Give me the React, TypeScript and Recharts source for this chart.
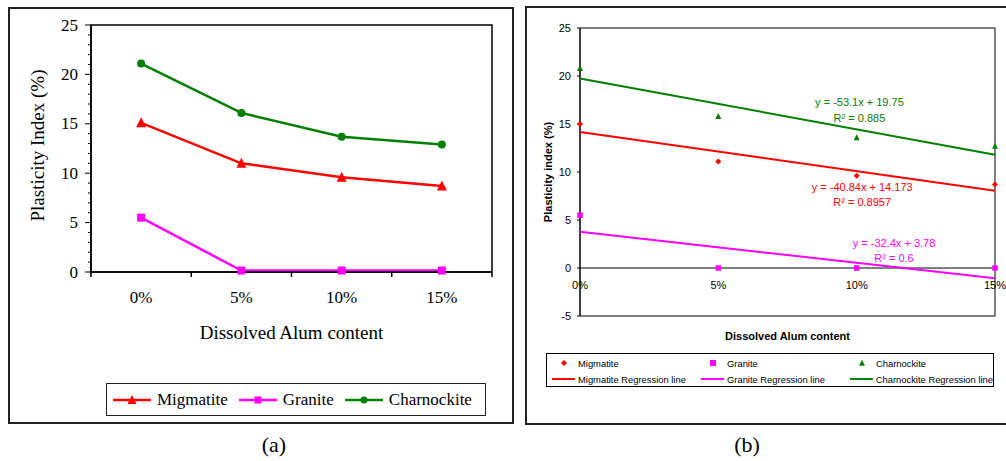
import {
  LineChart,
  Line,
  ScatterChart,
  Scatter,
  XAxis,
  YAxis,
  Legend,
  ReferenceArea,
  ReferenceLine,
  ReferenceDot,
} from 'recharts'

// shared x categories
const alumLabels = ['0%', '5%', '10%', '15%']
const alumFractions = [0, 0.05, 0.1, 0.15]

// (a) plasticity index per rock type
const migmatiteA = [15.1, 11.0, 9.6, 8.7]
const graniteA = [5.5, 0.15, 0.15, 0.15]
const charnockiteA = [21.1, 16.1, 13.7, 12.9]

// (b) same tests against alum fraction
const migmatiteB = [15.0, 11.1, 9.6, 8.7]
const graniteB = [5.5, 0, 0, 0]
const charnockiteB = [20.8, 15.8, 13.6, 12.7]

// linear fits, read at x = 0 and x = 0.15
const fitX = [0, 0.15]
const migmatiteFit = [14.17, 8.05]
const graniteFit = [3.78, -1.08]
const charnockiteFit = [19.75, 11.79]

const yTicksA = [0, 1, 2, 3, 4, 5, 6, 7, 8, 9, 10, 11, 12, 13, 14, 15, 16, 17, 18, 19, 20, 21, 22, 23, 24, 25]
const yTicksB = [-5, 0, 5, 10, 15, 20, 25]

const RED = '#ff0000'
const PINK = '#ff00ff'
const GREEN = '#008000'
const SERIF = '"Liberation Serif", "Times New Roman", serif'
const SANS = '"Liberation Sans", Arial, sans-serif'

const rowsA = alumLabels.map((cat, i) => ({
  cat,
  migmatite: migmatiteA[i],
  granite: graniteA[i],
  charnockite: charnockiteA[i],
}))

const toPoints = (xs: number[], ys: number[]) => xs.map((x, i) => ({ x, y: ys[i] }))

const fitNotes = [
  { text: 'y = -53.1x + 19.75', x: 0.101, y: 17.3, color: GREEN },
  { text: 'R² = 0.885', x: 0.101, y: 15.6, color: GREEN },
  { text: 'y = -40.84x + 14.173', x: 0.102, y: 8.45, color: RED },
  { text: 'R² = 0.8957', x: 0.102, y: 6.9, color: RED },
  { text: 'y = -32.4x + 3.78', x: 0.1135, y: 2.6, color: PINK },
  { text: 'R² = 0.6', x: 0.1135, y: 1.05, color: PINK },
]

type Kind = 'triangle' | 'square' | 'circle' | 'diamond' | 'none'

function Marker({ kind, cx, cy, size, fill }: { kind: Kind; cx: number; cy: number; size: number; fill: string }) {
  const h = size / 2
  if (kind === 'triangle')
    return <polygon points={`${cx},${cy - h * 1.1} ${cx + h},${cy + h * 0.9} ${cx - h},${cy + h * 0.9}`} fill={fill} />
  if (kind === 'square') return <rect x={cx - h} y={cy - h} width={size} height={size} fill={fill} />
  if (kind === 'circle') return <circle cx={cx} cy={cy} r={h} fill={fill} />
  if (kind === 'diamond')
    return <polygon points={`${cx},${cy - h} ${cx + h},${cy} ${cx},${cy + h} ${cx - h},${cy}`} fill={fill} />
  return <g />
}

function AxisTitle(props: any) {
  const { viewBox, text, vertical, titleX = 0, titleY = 0, fontSize, fontWeight, fontFamily } = props
  if (!viewBox) return null
  const cx = vertical ? viewBox.x + titleX : viewBox.x + viewBox.width / 2 + titleX
  const cy = vertical ? viewBox.y + viewBox.height / 2 + titleY : viewBox.y + titleY
  return (
    <text
      x={cx}
      y={cy}
      textAnchor="middle"
      dominantBaseline="central"
      transform={vertical ? `rotate(-90 ${cx} ${cy})` : undefined}
      fontSize={fontSize}
      fontWeight={fontWeight}
      fontFamily={fontFamily}
      fill="#000"
    >
      {text}
    </text>
  )
}

// category tick: label in the band, tick mark on the band edges
function BandTick(props: any) {
  const { x, y, payload, index, visibleTicksCount } = props
  const half = payload?.offset ?? 0
  const last = index === visibleTicksCount - 1
  return (
    <g>
      <line x1={x - half} y1={y} x2={x - half} y2={y + 5} stroke="#000" strokeWidth={1.5} />
      {last && <line x1={x + half} y1={y} x2={x + half} y2={y + 5} stroke="#000" strokeWidth={1.5} />}
      <text x={x} y={y + 25} textAnchor="middle" dominantBaseline="central" fontSize={17} fontFamily={SERIF} fill="#000">
        {payload.value}
      </text>
    </g>
  )
}

function MinorTick(props: any) {
  const { x, y, payload } = props
  const major = payload.value % 5 === 0
  return (
    <g>
      <line x1={x} y1={y} x2={x - (major ? 6 : 3)} y2={y} stroke="#000" strokeWidth={1} />
      {major && (
        <text x={x - 13} y={y} textAnchor="end" dominantBaseline="central" fontSize={17} fontFamily={SERIF} fill="#000">
          {payload.value}
        </text>
      )}
    </g>
  )
}

const seriesA = [
  { key: 'migmatite', name: 'Migmatite', color: RED, kind: 'triangle' as Kind, size: 10 },
  { key: 'granite', name: 'Granite', color: PINK, kind: 'square' as Kind, size: 8 },
  { key: 'charnockite', name: 'Charnockite', color: GREEN, kind: 'circle' as Kind, size: 8 },
]

function LegendA() {
  return (
    <div
      style={{
        display: 'flex',
        alignItems: 'center',
        height: '100%',
        boxSizing: 'border-box',
        border: '1.5px solid #222',
        background: '#fff',
        paddingLeft: 6,
        fontFamily: SERIF,
        fontSize: 17,
        color: '#000',
      }}
    >
      {seriesA.map((s) => (
        <div key={s.key} style={{ display: 'flex', alignItems: 'center', marginRight: 11 }}>
          <svg width={38} height={12}>
            <line x1={0} y1={6} x2={38} y2={6} stroke={s.color} strokeWidth={2.5} />
            <Marker kind={s.kind} cx={19} cy={6} size={s.size - 1} fill={s.color} />
          </svg>
          <span style={{ marginLeft: 6 }}>{s.name}</span>
        </div>
      ))}
    </div>
  )
}

const legendB = [
  { name: 'Migmatite', color: RED, kind: 'diamond' as Kind },
  { name: 'Granite', color: PINK, kind: 'square' as Kind },
  { name: 'Charnockite', color: GREEN, kind: 'triangle' as Kind },
  { name: 'Migmatite Regression line', color: RED, kind: 'none' as Kind },
  { name: 'Granite Regression line', color: PINK, kind: 'none' as Kind },
  { name: 'Charnockite Regression line', color: GREEN, kind: 'none' as Kind },
]

function LegendB() {
  return (
    <div
      style={{
        display: 'grid',
        gridTemplateColumns: '149px 149px 148px',
        gridAutoRows: '16px',
        alignItems: 'center',
        height: '100%',
        boxSizing: 'border-box',
        border: '1px solid #000',
        background: '#fff',
        paddingTop: 1,
        fontFamily: SANS,
        fontSize: 9.4,
        color: '#000',
        whiteSpace: 'nowrap',
      }}
    >
      {legendB.map((s) => (
        <div key={s.name} style={{ display: 'flex', alignItems: 'center', paddingLeft: 4 }}>
          <svg width={24} height={10}>
            {s.kind === 'none' ? (
              <line x1={1} y1={5} x2={24} y2={5} stroke={s.color} strokeWidth={2} />
            ) : (
              <Marker kind={s.kind} cx={13} cy={5} size={6} fill={s.color} />
            )}
          </svg>
          <span style={{ marginLeft: 3 }}>{s.name}</span>
        </div>
      ))}
    </div>
  )
}

export default function App() {
  return (
    <div style={{ position: 'absolute', left: 0, top: 0, width: 1006, height: 461, overflow: 'hidden', background: '#fff' }}>
      {/* panel frames */}
      <div style={{ position: 'absolute', left: 8, top: 7, width: 506, height: 417, border: '2px solid #222', boxSizing: 'border-box' }} />
      <div style={{ position: 'absolute', left: 525, top: 6, width: 500, height: 419, border: '2px solid #222', boxSizing: 'border-box' }} />

      <div style={{ position: 'absolute', left: 9, top: 8 }}>
        <LineChart width={503} height={414} data={rowsA} margin={{ top: 17, right: 20, bottom: 70, left: 0 }}>
          <ReferenceArea y1={0} y2={25} fill="none" stroke="#000" strokeWidth={1.5} />
          <XAxis
            dataKey="cat"
            scale="band"
            height={80}
            interval={0}
            tickSize={0}
            tickMargin={0}
            tickLine={false}
            axisLine={{ stroke: '#000', strokeWidth: 1.5 }}
            tick={<BandTick />}
            label={<AxisTitle text="Dissolved Alum content" titleY={60} fontSize={19} fontFamily={SERIF} />}
          />
          <YAxis
            width={82}
            domain={[0, 25]}
            ticks={yTicksA}
            interval={0}
            tickSize={0}
            tickMargin={0}
            tickLine={false}
            axisLine={{ stroke: '#000', strokeWidth: 1.5 }}
            tick={<MinorTick />}
            label={<AxisTitle vertical text="Plasticity Index (%)" titleX={28} titleY={-3} fontSize={19} fontFamily={SERIF} />}
          />
          {seriesA.map((s) => (
            <Line
              key={s.key}
              dataKey={s.key}
              name={s.name}
              stroke={s.color}
              strokeWidth={2.5}
              isAnimationActive={false}
              activeDot={false}
              dot={(p: any) => <Marker key={p.index} kind={s.kind} cx={p.cx} cy={p.cy} size={s.size} fill={s.color} />}
            />
          ))}
          <Legend
            content={<LegendA />}
            layout="vertical"
            align="center"
            verticalAlign="middle"
            wrapperStyle={{ top: 375, left: 97, width: 380, height: 33 }}
          />
        </LineChart>
      </div>

      <div style={{ position: 'absolute', left: 527, top: 7 }}>
        <ScatterChart width={479} height={417} margin={{ top: 21, right: 11, bottom: 68, left: 0 }}>
          <ReferenceArea x1={0} x2={0.15} y1={-5} y2={25} fill="none" stroke="#000" strokeWidth={1} />
          <ReferenceLine y={0} stroke="#000" strokeWidth={1} />
          <XAxis
            type="number"
            dataKey="x"
            domain={[0, 0.15]}
            ticks={alumFractions}
            tick={false}
            tickLine={false}
            axisLine={false}
            height={40}
            label={<AxisTitle text="Dissolved Alum content" titleY={20} fontSize={11} fontWeight="bold" fontFamily={SANS} />}
          />
          <YAxis
            type="number"
            dataKey="y"
            width={53}
            domain={[-5, 25]}
            ticks={yTicksB}
            interval={0}
            tickSize={3}
            tickMargin={6}
            tick={{ fontSize: 11, fill: '#000', fontFamily: SANS }}
            tickLine={{ stroke: '#000' }}
            axisLine={{ stroke: '#000' }}
            label={<AxisTitle vertical text="Plasticity index (%)" titleX={21} fontSize={11} fontWeight="bold" fontFamily={SANS} />}
          />
          {alumFractions.map((v, i) => (
            <ReferenceDot
              key={alumLabels[i]}
              x={v}
              y={0}
              r={0}
              fill="none"
              stroke="none"
              label={{ value: alumLabels[i], position: 'bottom', offset: 13, fontSize: 11, fill: '#000', fontFamily: SANS }}
            />
          ))}
          <Scatter
            name="Migmatite Regression line"
            data={toPoints(fitX, migmatiteFit)}
            fill={RED}
            line={{ stroke: RED, strokeWidth: 2 }}
            shape={() => <g />}
            isAnimationActive={false}
          />
          <Scatter
            name="Granite Regression line"
            data={toPoints(fitX, graniteFit)}
            fill={PINK}
            line={{ stroke: PINK, strokeWidth: 2 }}
            shape={() => <g />}
            isAnimationActive={false}
          />
          <Scatter
            name="Charnockite Regression line"
            data={toPoints(fitX, charnockiteFit)}
            fill={GREEN}
            line={{ stroke: GREEN, strokeWidth: 2 }}
            shape={() => <g />}
            isAnimationActive={false}
          />
          <Scatter
            name="Migmatite"
            data={toPoints(alumFractions, migmatiteB)}
            fill={RED}
            shape={(p: any) => <Marker kind="diamond" cx={p.cx} cy={p.cy} size={6} fill={RED} />}
            isAnimationActive={false}
          />
          <Scatter
            name="Granite"
            data={toPoints(alumFractions, graniteB)}
            fill={PINK}
            shape={(p: any) => <Marker kind="square" cx={p.cx} cy={p.cy} size={5.5} fill={PINK} />}
            isAnimationActive={false}
          />
          <Scatter
            name="Charnockite"
            data={toPoints(alumFractions, charnockiteB)}
            fill={GREEN}
            shape={(p: any) => <Marker kind="triangle" cx={p.cx} cy={p.cy} size={6} fill={GREEN} />}
            isAnimationActive={false}
          />
          {fitNotes.map((n) => (
            <ReferenceDot
              key={n.text}
              x={n.x}
              y={n.y}
              r={0}
              fill="none"
              stroke="none"
              label={{ value: n.text, position: 'center', fontSize: 11, fill: n.color, fontFamily: SANS }}
            />
          ))}
          <Legend
            content={<LegendB />}
            layout="vertical"
            align="center"
            verticalAlign="middle"
            wrapperStyle={{ top: 346, left: 19, width: 448, height: 34 }}
          />
        </ScatterChart>
      </div>

      <div style={{ position: 'absolute', left: 224, top: 432, width: 100, textAlign: 'center', fontFamily: SERIF, fontSize: 22, lineHeight: '26px' }}>
        (a)
      </div>
      <div style={{ position: 'absolute', left: 697, top: 432, width: 100, textAlign: 'center', fontFamily: SERIF, fontSize: 22, lineHeight: '26px' }}>
        (b)
      </div>
    </div>
  )
}
